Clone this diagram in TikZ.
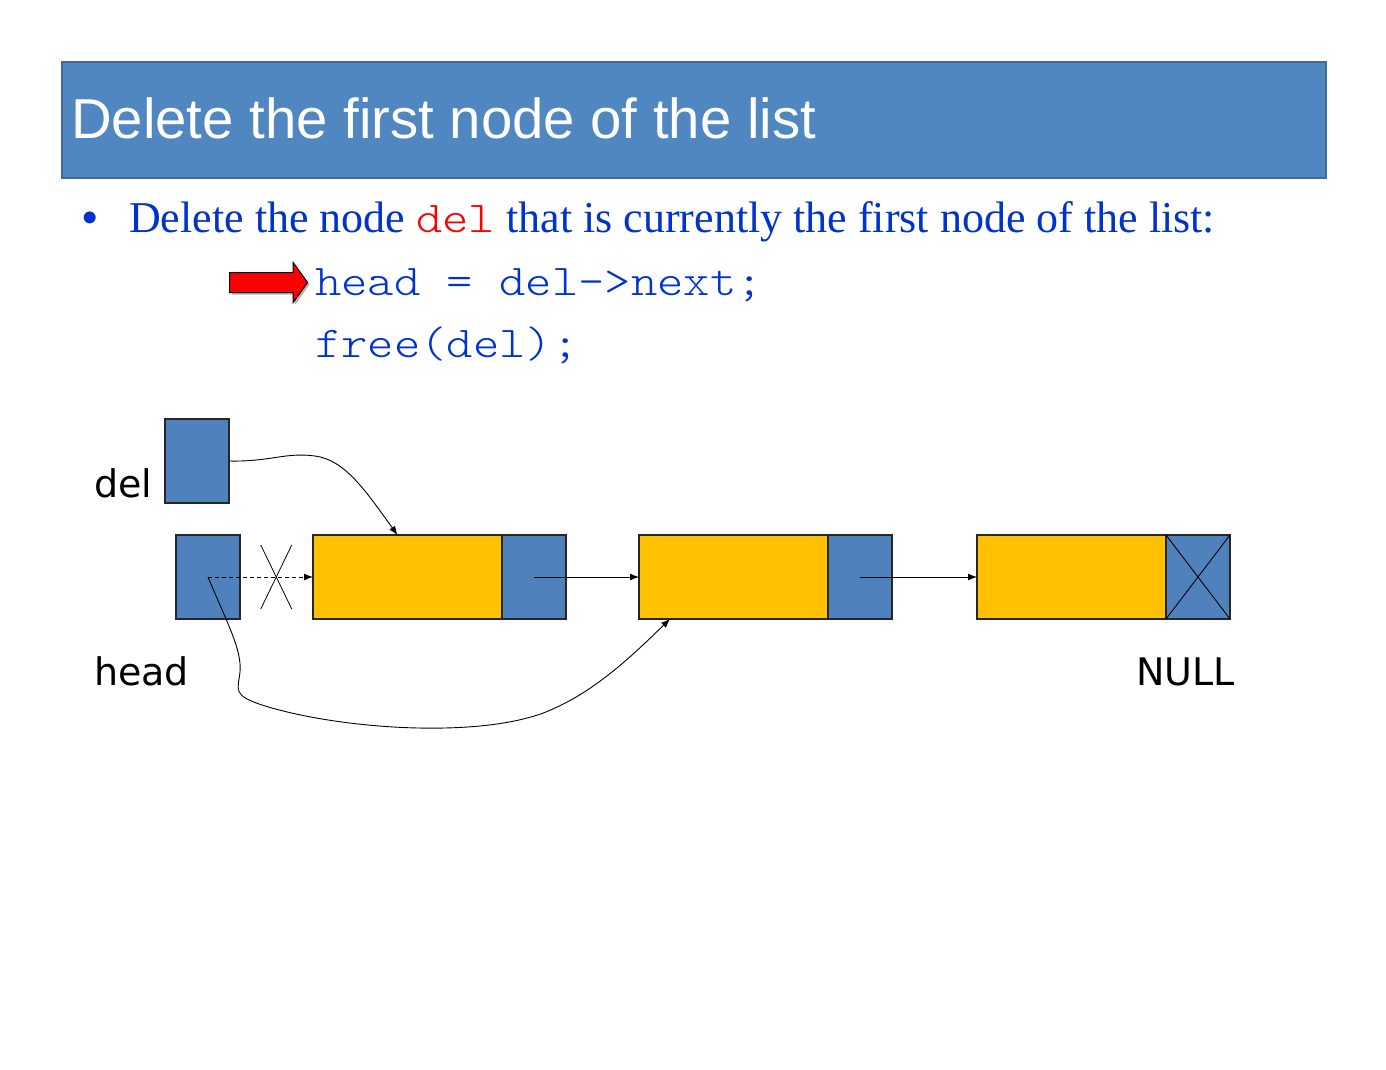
\documentclass[tikz,border=0pt]{standalone}
\usepackage{fontspec}
\setmainfont{Liberation Serif}
\newfontfamily\codefont[FakeStretch=1.14]{Latin Modern Mono Light}
\newfontfamily\titlefont{Liberation Sans}
\newfontfamily\labelfont{DejaVu Sans}
\usepackage{tikz}
\usetikzlibrary{arrows.meta, positioning, shapes.arrows, shadows}
\definecolor{cellblue}{HTML}{4F81BD}
\definecolor{cellgold}{HTML}{FFC000}
\definecolor{barblue}{HTML}{5187C0}
\definecolor{barline}{HTML}{41699A}
\definecolor{textblue}{HTML}{0033CC}
\definecolor{codered}{HTML}{FF0000}
\tikzstyle{datacell} = [rectangle, draw=black!85, fill=cellgold, line width=1.2pt,
                        minimum width=189pt, minimum height=84pt,
                        inner sep=0pt, outer sep=0pt]
\tikzstyle{ptrcell}  = [rectangle, draw=black!85, fill=cellblue, line width=1.2pt,
                        minimum width=64pt, minimum height=84pt,
                        inner sep=0pt, outer sep=0pt]
\tikzstyle{arrow}    = [-{Latex[length=9pt,width=7pt]}, line width=0.9pt, black]
\tikzstyle{lbl}      = [anchor=base west, inner sep=0pt,
                        font=\labelfont\fontsize{38}{40}\selectfont]
\tikzstyle{code}     = [anchor=base west, inner sep=0pt, text=textblue,
                        font=\codefont\fontsize{44}{48}\selectfont]

\begin{document}
\begin{tikzpicture}[x=1pt, y=-1pt, node distance=73pt]

  \path[fill=white] (0,0) rectangle (1386,1070);
  \useasboundingbox (0,0) rectangle (1386,1070);

  %% ── Title bar ──
  \node[draw=barline, fill=barblue, line width=2pt, minimum width=1264pt,
        minimum height=116pt, anchor=north west, inner sep=0pt] (bar) at (61,61) {};
  \node[anchor=base west, inner sep=0pt, text=white,
        font=\titlefont\fontsize{56.3}{60}\selectfont] (title) at (71,139)
        {Delete the first node of the list};

  %% ── Bullet text and code ──
  \node[anchor=base west, inner sep=0pt, text=textblue,
        font=\titlefont\fontsize{44}{48}\selectfont] (dot) at (82,232) {•};
  \node[anchor=base west, inner sep=0pt, text=textblue,
        font=\fontsize{44}{48}\selectfont] (intro) at (129,232)
        {Delete the node \textcolor{codered}{\codefont del} that is currently the first node of the list:};
  \node[code] (line1) at (315,295) {head = del->next;};
  \node[code] (line2) at (315,357) {free(del);};
  \node[single arrow, draw=black, fill=red, line width=1pt, anchor=tail,
        minimum height=78pt, minimum width=39pt, inner xsep=0pt, inner ysep=9.5pt,
        single arrow head extend=10pt, single arrow tip angle=109,
        drop shadow={shadow xshift=2pt, shadow yshift=-2pt, opacity=0.6}]
        (mark) at (229,282.5) {};

  %% ── List cells ──
  \node[ptrcell] (delp) at (197,461) {};
  \node[ptrcell] (headp) at (208,577) {};
  \node[datacell, right=73pt of headp] (d1) {};
  \node[ptrcell, right=0pt of d1] (p1) {};
  \node[datacell, right=73pt of p1] (d2) {};
  \node[ptrcell, right=0pt of d2] (p2) {};
  \node[datacell, right=85pt of p2] (d3) {};
  \node[ptrcell, right=0pt of d3] (p3) {};

  \node[lbl] (dellbl) at (94,497) {del};
  \node[lbl] (headlbl) at (94,685) {head};
  \node[lbl] (nulllbl) at (1136,685) {NULL};

  %% ── Arrows ──
  \draw[arrow] (p1.center) -- (d2.west);
  \draw[arrow] (p2.center) -- (d3.west);
  \draw[arrow, dash pattern=on 4pt off 3pt] (headp.center)
        -- coordinate[pos=0.65] (cut) (d1.west);
  \draw[line width=0.8pt] ([shift={(-15.5,-32)}]cut) -- ([shift={(15.5,32)}]cut);
  \draw[line width=0.8pt] ([shift={(15.5,-32)}]cut) -- ([shift={(-15.5,32)}]cut);
  \draw[line width=0.9pt] (p3.north west) -- (p3.south east);
  \draw[line width=0.9pt] (p3.north east) -- (p3.south west);

  \draw[arrow] (delp.east) .. controls (270,462) and (285,452) .. (315,456)
        .. controls (345,460) and (365,490) .. ([xshift=-10pt]d1.north);
  \draw[arrow] (headp.center) .. controls (228,625) and (242,650) .. (240,672)
        .. controls (238,690) and (232,695) .. (262,705)
        .. controls (340,730) and (490,740) .. (555,708)
        .. controls (600,688) and (640,648) .. ([xshift=31pt]d2.south west);

\end{tikzpicture}
\end{document}
